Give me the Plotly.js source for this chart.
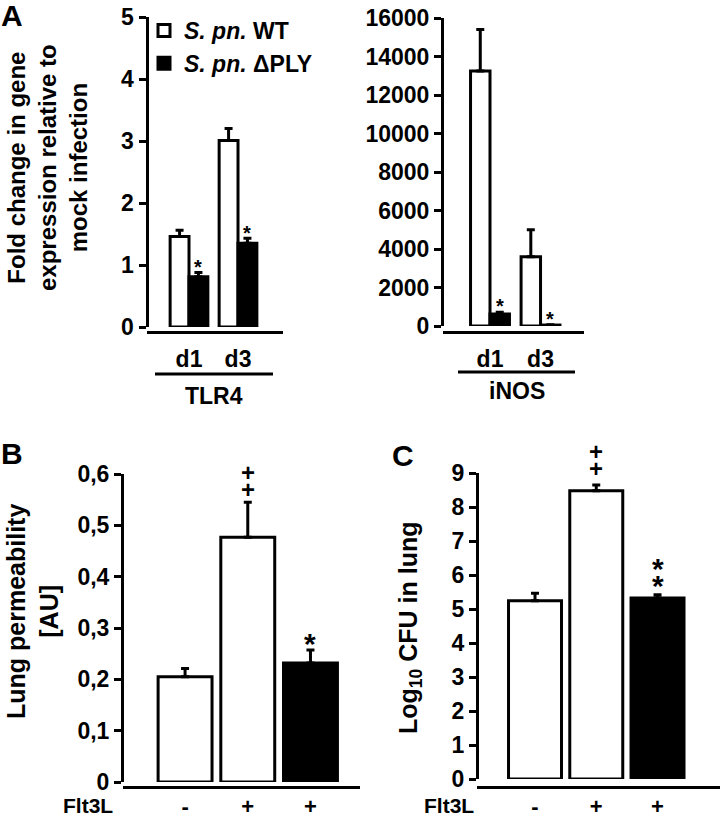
<!DOCTYPE html>
<html><head><meta charset="utf-8">
<script src="https://cdn.plot.ly/plotly-3.0.1.min.js"></script>
<style>html,body{margin:0;padding:0;background:#fff}#chart{width:720px;height:819px}</style>
</head><body><div id="chart"></div>
<script>
// ---------- data ----------
const daysA = ['d1', 'd3'];
const tlr4WT = [1.46, 3.01];
const tlr4WTerr = [0.10, 0.19];
const tlr4PLY = [0.81, 1.35];
const tlr4PLYerr = [0.07, 0.08];
const tlr4Sig = ['*', '*'];
const inosWT = [13250, 3600];
const inosWTerr = [2150, 1400];
const inosPLY = [620, 50];
const inosPLYerr = [100, 20];
const inosSig = ['*', '*'];
const groupsBC = ['control', 'Flt3L', 'Flt3L b'];
const flt3lTicks = ['-', '+', '+'];
const barColorsBC = ['white', 'white', 'black'];
const permVals = [0.205, 0.477, 0.232];
const permErr = [0.016, 0.068, 0.025];
const permSig = ['', '++', '*'];
const permTickVals = [0, 0.1, 0.2, 0.3, 0.4, 0.5, 0.6];
const permTickText = ['0', '0,1', '0,2', '0,3', '0,4', '0,5', '0,6'];
const cfuVals = [5.24, 8.48, 5.32];
const cfuErr = [0.22, 0.17, 0.10];
const cfuSig = ['', '++', '**'];

// ---------- helpers ----------
const W = 720, H = 819;
const FONT = 'Liberation Sans, Arial, Helvetica, sans-serif';
const px = x => x / W;
const py = y => 1 - y / H;
const f = (size, extra) => Object.assign({family: FONT, size: size, color: '#000', weight: 'bold'}, extra || {});

function yax(x, top, bottom, range, extra) {
  return Object.assign({
    domain: [py(bottom), py(top)], anchor: 'free', position: px(x), range: range,
    showline: true, linewidth: 3, linecolor: '#000', ticks: 'outside', ticklen: 7, tickwidth: 3,
    tickcolor: '#000', showgrid: false, zeroline: false, tickfont: f(23), fixedrange: true
  }, extra || {});
}
function xax(left, right, yline, range, extra) {
  return Object.assign({
    domain: [px(left), px(right)], anchor: 'free', position: py(yline), type: 'category', range: range,
    showline: true, linewidth: 3, linecolor: '#000', ticks: 'outside', ticklen: 5,
    tickcolor: 'rgba(0,0,0,0)', showgrid: false, zeroline: false, tickfont: f(23), fixedrange: true
  }, extra || {});
}
function errY(arr) {
  return {type: 'data', symmetric: false, array: arr, arrayminus: arr.map(() => 0),
          color: '#000', thickness: 3, width: 4};
}
function sigAnn(xref, yref, xs, tops, marks, opt) {
  const out = [];
  marks.forEach((m, i) => {
    [...m].forEach((ch, k) => {
      const size = ch === '*' ? opt.starSize : opt.plusSize;
      const lift = ch === '*' ? 0.21 * size : 0;
      out.push({xref: xref, yref: yref, x: xs[i], y: tops[i], text: ch, showarrow: false,
        xanchor: 'center', yanchor: 'middle', yshift: opt.gap + k * opt.step - lift, font: f(size)});
    });
  });
  return out;
}
const addArr = (a, b) => a.map((v, i) => v + b[i]);

const wA = 0.385, wB = 0.86, wC = 0.865;

const traces = [
  {type: 'bar', x: daysA, y: tlr4WT, xaxis: 'x', yaxis: 'y', name: '<i>S. pn.</i> WT',
   width: wA, offset: -wA, marker: {color: 'white', line: {color: '#000', width: 3}},
   error_y: errY(tlr4WTerr), legendgroup: 'wt', showlegend: true},
  {type: 'bar', x: daysA, y: tlr4PLY, xaxis: 'x', yaxis: 'y', name: '<i>S. pn.</i> \u0394PLY',
   width: wA, offset: 0, marker: {color: 'black', line: {color: '#000', width: 3}},
   error_y: errY(tlr4PLYerr), legendgroup: 'ply', showlegend: true},
  {type: 'bar', x: daysA, y: inosWT, xaxis: 'x2', yaxis: 'y2', name: '<i>S. pn.</i> WT',
   width: wA, offset: -wA, marker: {color: 'white', line: {color: '#000', width: 3}},
   error_y: errY(inosWTerr), legendgroup: 'wt', showlegend: false},
  {type: 'bar', x: daysA, y: inosPLY, xaxis: 'x2', yaxis: 'y2', name: '<i>S. pn.</i> \u0394PLY',
   width: wA, offset: 0, marker: {color: 'black', line: {color: '#000', width: 3}},
   error_y: errY(inosPLYerr), legendgroup: 'ply', showlegend: false},
  {type: 'bar', x: groupsBC, y: permVals, xaxis: 'x3', yaxis: 'y3', name: 'Lung permeability',
   width: wB, marker: {color: barColorsBC, line: {color: '#000', width: 3}},
   error_y: errY(permErr), showlegend: false},
  {type: 'bar', x: groupsBC, y: cfuVals, xaxis: 'x4', yaxis: 'y4', name: 'Log10 CFU',
   width: wC, marker: {color: barColorsBC, line: {color: '#000', width: 3}},
   error_y: errY(cfuErr), showlegend: false}
];

const plyX = daysA.map((d, i) => i + wA / 2);
const bcX = groupsBC.map((g, i) => i);

let annotations = [];
annotations = annotations.concat(
  sigAnn('x', 'y', plyX, addArr(tlr4PLY, tlr4PLYerr), tlr4Sig, {starSize: 20, plusSize: 20, gap: 10, step: 17}),
  sigAnn('x2', 'y2', plyX, addArr(inosPLY, inosPLYerr), inosSig, {starSize: 20, plusSize: 20, gap: 10, step: 17}),
  sigAnn('x3', 'y3', bcX, addArr(permVals, permErr), permSig, {starSize: 30, plusSize: 24, gap: 13, step: 17}),
  sigAnn('x4', 'y4', bcX, addArr(cfuVals, cfuErr), cfuSig, {starSize: 30, plusSize: 24, gap: 16, step: 17})
);
const paperText = (text, x, y, size, extra) => Object.assign({xref: 'paper', yref: 'paper', x: px(x), y: py(y),
  text: text, showarrow: false, xanchor: 'center', yanchor: 'middle', font: f(size)}, extra || {});
annotations.push(
  paperText('A', 12, 15, 30),
  paperText('B', 12, 453, 30),
  paperText('C', 403, 455, 30),
  paperText('Fold change in gene<br>expression relative to<br>mock infection', 48, 168, 24, {textangle: -90}),
  paperText('Lung permeability<br>[AU]', 32, 612, 25, {textangle: -90}),
  paperText('Log<sub>10</sub> CFU in lung', 410, 628, 25, {textangle: -90}),
  paperText('TLR4', 214, 396, 23),
  paperText('iNOS', 517, 391, 23),
  paperText('Flt3L', 88, 805, 21),
  paperText('Flt3L', 449, 805, 21)
);

const lineShape = (x0, x1, y) => ({type: 'line', xref: 'paper', yref: 'paper', x0: px(x0), x1: px(x1),
  y0: py(y), y1: py(y), line: {color: '#000', width: 3}});

const bottomTicks = {tickmode: 'array', tickvals: groupsBC, ticktext: flt3lTicks, ticks: '',
                     ticklabelstandoff: -1, tickfont: f(22)};

const layout = {
  width: W, height: H, margin: {l: 0, r: 0, t: 0, b: 0},
  paper_bgcolor: '#fff', plot_bgcolor: 'rgba(0,0,0,0)', barmode: 'overlay',
  showlegend: true,
  legend: {x: px(144), y: py(9), xanchor: 'left', yanchor: 'top', bgcolor: 'rgba(0,0,0,0)',
           font: f(23), itemwidth: 30, tracegroupgap: 0, traceorder: 'normal'},
  xaxis: xax(147, 283, 332, [-0.857, 1.918]),
  yaxis: yax(146.5, 17, 327, [0, 5], {dtick: 1, tick0: 0}),
  xaxis2: xax(443, 584, 332, [-0.93, 1.86]),
  yaxis2: yax(442, 18, 326, [0, 16000], {dtick: 2000, tick0: 0, tickformat: 'd'}),
  xaxis3: xax(123, 360, 787, [-0.99, 2.79], bottomTicks),
  yaxis3: yax(122, 474, 782, [0, 0.6], {tickmode: 'array', tickvals: permTickVals, ticktext: permTickText}),
  xaxis4: xax(477, 720, 787, [-0.947, 3.02], bottomTicks),
  yaxis4: yax(477, 473, 779, [0, 9], {dtick: 1, tick0: 0}),
  annotations: annotations,
  shapes: [lineShape(155, 273, 374), lineShape(458, 575, 372)]
};

Plotly.newPlot('chart', traces, layout, {displayModeBar: false, staticPlot: true});
</script></body></html>
